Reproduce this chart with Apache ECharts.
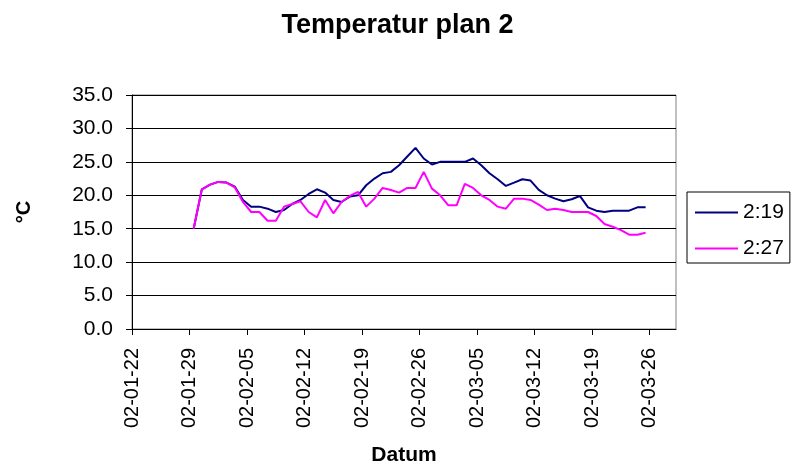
<!DOCTYPE html>
<html><head><meta charset="utf-8">
<script src="https://cdn.jsdelivr.net/npm/echarts@6/dist/echarts.min.js"></script>
<style>html,body{margin:0;padding:0;background:#fff}#c{width:795px;height:466px}</style>
</head><body><div id="c"></div>
<script>
var dates = ['02-01-29','02-01-30','02-01-31',
'02-02-01','02-02-02','02-02-03','02-02-04','02-02-05','02-02-06','02-02-07','02-02-08','02-02-09','02-02-10',
'02-02-11','02-02-12','02-02-13','02-02-14','02-02-15','02-02-16','02-02-17','02-02-18','02-02-19','02-02-20',
'02-02-21','02-02-22','02-02-23','02-02-24','02-02-25','02-02-26','02-02-27','02-02-28',
'02-03-01','02-03-02','02-03-03','02-03-04','02-03-05','02-03-06','02-03-07','02-03-08','02-03-09','02-03-10',
'02-03-11','02-03-12','02-03-13','02-03-14','02-03-15','02-03-16','02-03-17','02-03-18','02-03-19','02-03-20',
'02-03-21','02-03-22','02-03-23','02-03-24','02-03-25'];
var s219 = [15.0,20.9,21.6,22.0,21.9,21.3,19.3,18.3,18.3,18.0,17.5,17.8,18.7,19.3,20.2,20.9,20.4,19.3,19.0,19.8,
20.0,21.5,22.5,23.3,23.5,24.5,25.8,27.1,25.5,24.6,25.0,25.0,25.0,25.0,25.5,24.5,23.3,22.4,21.4,21.9,
22.4,22.2,20.8,20.0,19.5,19.1,19.4,19.9,18.2,17.7,17.5,17.7,17.7,17.7,18.2,18.2];
var s227 = [15.0,20.9,21.6,22.0,21.9,21.2,19.0,17.5,17.5,16.2,16.2,18.3,18.7,19.1,17.5,16.7,19.3,17.3,19.0,19.9,
20.5,18.3,19.5,21.1,20.8,20.4,21.1,21.1,23.5,21.0,20.0,18.5,18.5,21.7,21.1,20.0,19.3,18.3,18.0,19.5,
19.5,19.3,18.6,17.8,18.0,17.8,17.5,17.5,17.5,16.9,15.7,15.3,14.8,14.1,14.1,14.4];
var tickLabels = ['02-01-22','02-01-29','02-02-05','02-02-12','02-02-19','02-02-26','02-03-05','02-03-12','02-03-19','02-03-26'];
var seriesNames = ['2:19','2:27'];

function dayOf(s){
  var p = s.split('-');
  return Math.round((Date.UTC(2000+ +p[0], +p[1]-1, +p[2]) - Date.UTC(2002,0,22))/86400000);
}
function pts(vals){ return dates.map(function(d,i){ return [dayOf(d)+0.5, vals[i]]; }); }
var tickVals = tickLabels.map(function(t){ return dayOf(t); });

var chart = echarts.init(document.getElementById('c'));
var font = 'Liberation Sans, Arial, sans-serif';
chart.setOption({
  animation:false,
  textStyle:{fontFamily:font},
  title:{text:'Temperatur plan 2', left:'center', top:7,
    textStyle:{fontFamily:font, fontSize:27, fontWeight:'bold', color:'#000'}},
  grid:{left:132, right:119, top:95, bottom:137, show:true, borderColor:'#808080', borderWidth:1,
    outerBoundsMode:'none', containLabel:false},
  legend:{orient:'vertical', left:687, top:192, data:seriesNames, icon:'rect',
    borderColor:'#000', borderWidth:1, padding:[10,6,4,8], itemWidth:43, itemHeight:2, itemGap:15,
    textStyle:{fontFamily:font, fontSize:21, color:'#000'}},
  xAxis:{type:'value', min:0, max:66.2, name:'Datum', nameLocation:'middle', nameGap:116,
    nameTextStyle:{fontFamily:font, fontSize:21, fontWeight:'bold', color:'#000'},
    axisLine:{lineStyle:{color:'#000', width:1}},
    axisTick:{show:true, length:6, customValues:tickVals, lineStyle:{color:'#000'}},
    axisLabel:{rotate:90, margin:19, fontSize:20, color:'#000', customValues:tickVals,
      formatter:function(v){ var i = tickVals.indexOf(Math.round(v)); return i>=0 ? tickLabels[i] : ''; }},
    splitLine:{show:false}},
  yAxis:{type:'value', min:0, max:35, interval:5, name:'°C', nameLocation:'middle', nameGap:98,
    nameTextStyle:{fontFamily:font, fontSize:20, fontWeight:'bold', color:'#000'},
    axisLine:{show:true, lineStyle:{color:'#000', width:1}},
    axisTick:{show:true, length:6, lineStyle:{color:'#000'}},
    axisLabel:{margin:19, fontSize:21, color:'#000', formatter:function(v){ return v.toFixed(1); }},
    splitLine:{show:true, lineStyle:{color:'#000', width:1}}},
  series:[
    {name:seriesNames[0], type:'line', data:pts(s219), symbol:'none', lineStyle:{color:'#000080', width:2}, itemStyle:{color:'#000080'}},
    {name:seriesNames[1], type:'line', data:pts(s227), symbol:'none', lineStyle:{color:'#FF00FF', width:2}, itemStyle:{color:'#FF00FF'}}
  ]
});
</script></body></html>
